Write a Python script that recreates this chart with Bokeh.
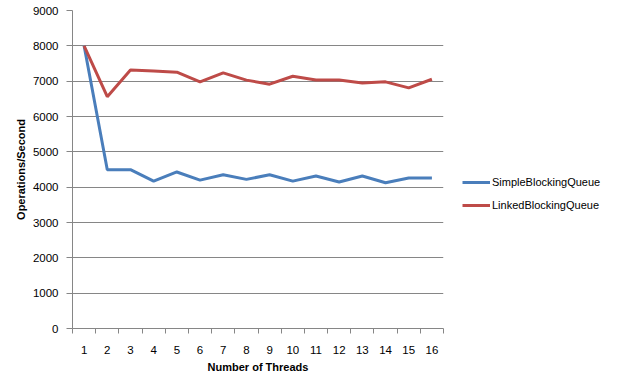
from bokeh.plotting import figure
from bokeh.models import FixedTicker, LinearAxis, Legend, LegendItem, Range1d
from bokeh.embed import file_html
from bokeh.resources import INLINE

threads = list(range(1, 17))
simple_q = [8000, 4495, 4495, 4170, 4430, 4200, 4350, 4220, 4350, 4170, 4315, 4145, 4315, 4125, 4260, 4260]
linked_q = [8000, 6560, 7315, 7285, 7255, 6980, 7235, 7030, 6915, 7140, 7035, 7030, 6950, 6980, 6810, 7055]
y_ticks = list(range(0, 9001, 1000))
series_names = ["SimpleBlockingQueue", "LinkedBlockingQueue"]

FONT = "Liberation Sans"
GRID = "#868686"

p = figure(frame_width=371, frame_height=318, output_backend="svg", toolbar_location=None,
           x_range=Range1d(0.5, 16.5), y_range=Range1d(0, 9000),
           min_border_left=72, min_border_right=10, min_border_top=10, min_border_bottom=10,
           outline_line_color=None)

# x axis: tick marks at category boundaries, no labels
xa = p.xaxis[0]
xa.ticker = FixedTicker(ticks=[t - 0.5 for t in threads] + [threads[-1] + 0.5])
xa.major_label_overrides = {t - 0.5: "" for t in threads + [17]}
xa.major_label_standoff = 0
xa.major_tick_out = 5
xa.major_tick_in = 0
xa.minor_tick_line_color = None
xa.axis_line_color = GRID
xa.major_tick_line_color = GRID

# x labels at category centres
xl = LinearAxis(ticker=FixedTicker(ticks=threads))
xl.axis_line_color = None
xl.major_tick_line_color = None
xl.minor_tick_line_color = None
xl.major_label_text_font = FONT
xl.major_label_text_font_size = "11.5px"
xl.major_label_text_color = "black"
xl.major_label_standoff = 6
xl.axis_label = "Number of Threads"
xl.axis_label_text_font = FONT
xl.axis_label_text_font_size = "11px"
xl.axis_label_text_font_style = "bold"
xl.axis_label_text_color = "black"
xl.axis_label_standoff = 4
p.add_layout(xl, "below")

ya = p.yaxis[0]
ya.ticker = FixedTicker(ticks=y_ticks)
ya.major_tick_out = 6
ya.major_tick_in = 0
ya.minor_tick_line_color = None
ya.axis_line_color = GRID
ya.major_tick_line_color = GRID
ya.major_label_text_font = FONT
ya.major_label_text_font_size = "11.5px"
ya.major_label_text_color = "black"
ya.major_label_standoff = 8
ya.axis_label = "Operations/Second"
ya.axis_label_text_font = FONT
ya.axis_label_text_font_size = "11px"
ya.axis_label_text_font_style = "bold"
ya.axis_label_text_color = "black"
ya.axis_label_standoff = 3

p.xgrid.grid_line_color = None
p.ygrid.ticker = FixedTicker(ticks=y_ticks)
p.ygrid.grid_line_color = GRID

r1 = p.line(threads, simple_q, line_color="#4A7EBB", line_width=3)
r2 = p.line(threads, linked_q, line_color="#BE4B48", line_width=3)

legend = Legend(items=[LegendItem(label=series_names[0], renderers=[r1]),
                       LegendItem(label=series_names[1], renderers=[r2])],
                location=(19, 117), border_line_color=None, background_fill_alpha=0,
                label_text_font=FONT, label_text_font_size="11px", label_text_color="black",
                glyph_width=28, glyph_height=12, label_standoff=2,
                spacing=11, padding=0, margin=0, label_height=12)
p.add_layout(legend, "right")

open("out.html", "w").write(file_html(p, INLINE))
